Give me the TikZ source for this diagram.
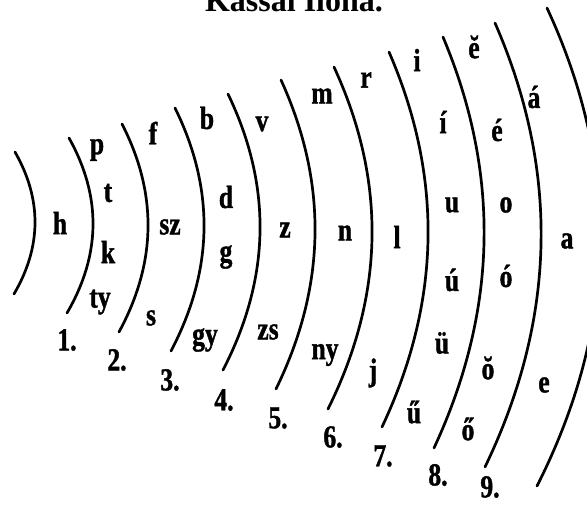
\documentclass[tikz,border=0pt]{standalone}
\usepackage{fontspec}
\setmainfont{Liberation Serif}
\newfontfamily\lblfont{Liberation Serif}[FakeStretch=0.8,FakeBold=1.2]
\usetikzlibrary{calc}
\begin{document}
\begin{tikzpicture}[x=1pt,y=-1pt,
  arcline/.style={line width=2.7pt, line cap=round},
  lbl/.style={font=\lblfont\bfseries\fontsize{32}{32}\selectfont, inner sep=0pt, anchor=center},
  numlbl/.style={lbl},
  titlelbl/.style={font=\bfseries\fontsize{32}{32}\selectfont, inner sep=0pt, anchor=base}]
\useasboundingbox (0,0) rectangle (587,505);
\begin{scope}
\clip (0,0) rectangle (587,505);
\node[titlelbl] (title) at (294,12) {Kassai Ilona.};
\foreach \i/\tx/\ty/\mx/\bx/\by in {
  0/15/152/35/14/294,
  1/69/138/93/67/313,
  2/122/124/148/119/332,
  3/175/108/204/171/351,
  4/228/94/260/223/370,
  5/281/80/315/276/389,
  6/334/67/372/328/409,
  7/389/52/428/382/427,
  8/443/37/484/434/448,
  9/495/23/541/485/467,
  10/547/8/600/537/486}{
  \coordinate (t\i) at (\tx,\ty);
  \coordinate (b\i) at (\bx,\by);
  \coordinate (m\i) at (\mx,{(\ty+\by)/2});
  \coordinate (q\i) at ($2*(m\i)-0.5*(t\i)-0.5*(b\i)$);
  \draw[arcline] (t\i) .. controls ($(t\i)!2/3!(q\i)$) and ($(b\i)!2/3!(q\i)$) .. (b\i);
}
\foreach \txt/\x/\y [count=\k] in {
  h/60/223, p/97/150, t/108/193, k/108/252, ty/100/302,
  f/153/133, sz/170/227, s/151/318,
  b/207/118, d/226/197, g/226/257, gy/205/340,
  v/262/124, z/285/230, zs/268/332,
  m/322/96, n/345/233, ny/325/355,
  r/366/80, l/397/237, j/373/373,
  i/417/60, í/443/122, u/452/205, ú/452/280, ü/442/343, ű/414/412,
  ĕ/474/47, é/497/130, o/506/205, ó/506/276, ŏ/488/368, ő/468/429,
  á/534/97, a/567/241, e/544/385}{
  \node[lbl] (L\k) at (\x,\y) {\txt};
}
\foreach \txt/\x/\y [count=\k] in {
  1./67/340, 2./117/360, 3./170/380, 4./224/400, 5./278/418,
  6./333/437, 7./383/456, 8./438/475, 9./490/487}{
  \node[numlbl] (N\k) at (\x,\y) {\txt};
}
\end{scope}
\end{tikzpicture}
\end{document}
